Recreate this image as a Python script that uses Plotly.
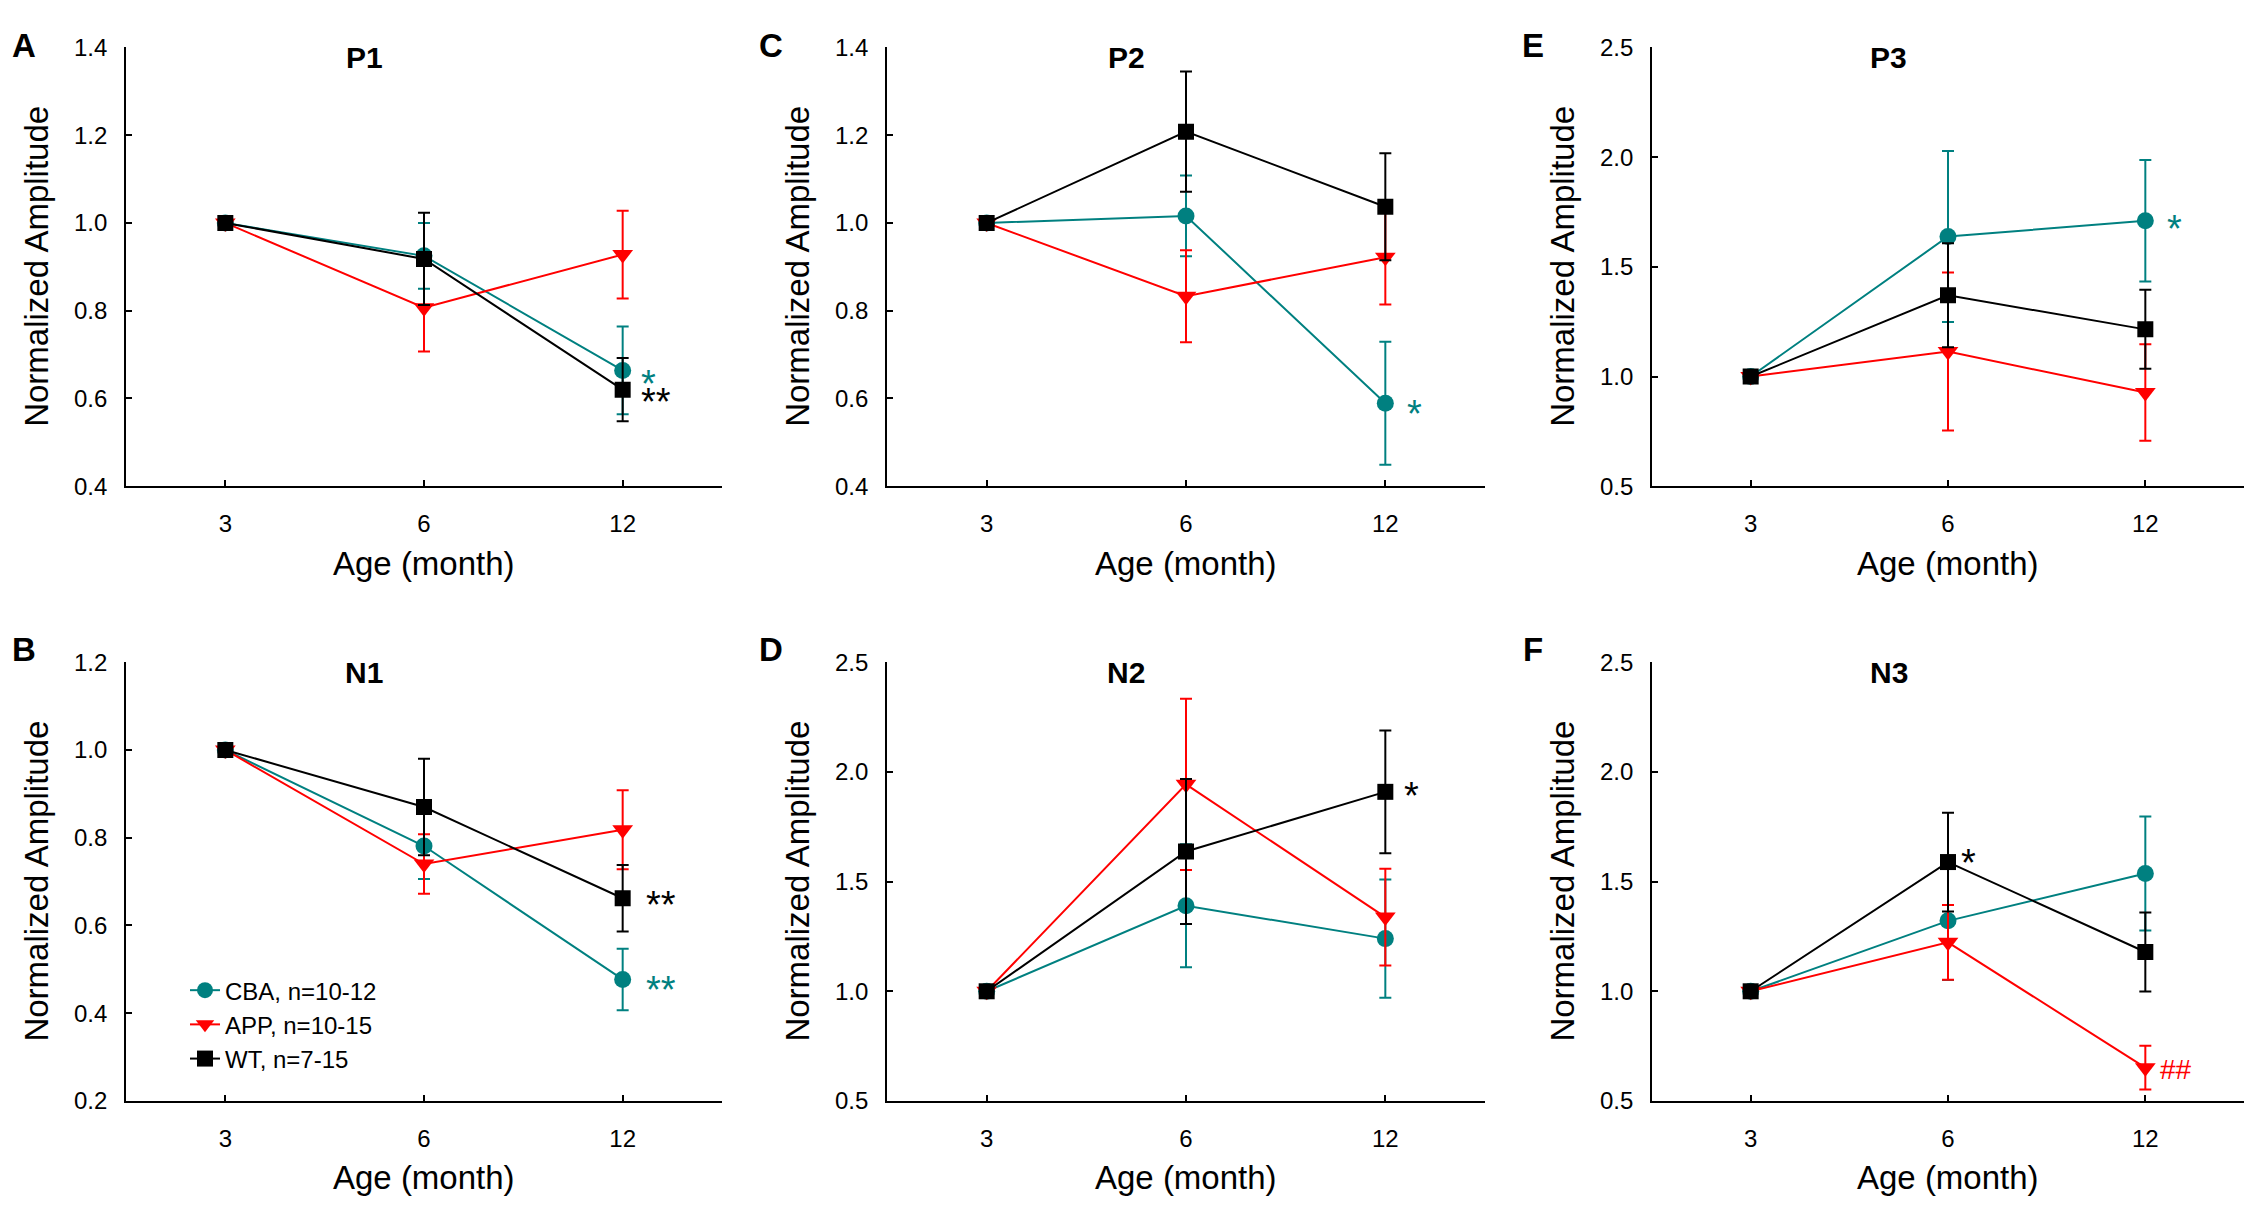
import plotly.graph_objects as go

# ages on the x axis (shown as evenly spaced categories)
AGES = ["3", "6", "12"]
XPOS = list(range(len(AGES)))

GROUPS = ["CBA, n=10-12", "APP, n=10-15", "WT, n=7-15"]
COLORS = ["#008080", "#ff0000", "#000000"]
SYMBOLS = ["circle", "triangle-down", "square"]
SIZES = [17, 18, 16]

# P1
P1_CBA = [1.0, 0.925, 0.664]
P1_CBA_SE = [0, 0.075, 0.10]
P1_APP = [1.0, 0.807, 0.928]
P1_APP_SE = [0, 0.10, 0.10]
P1_WT = [1.0, 0.918, 0.620]
P1_WT_SE = [0, 0.105, 0.072]

# N1
N1_CBA = [1.0, 0.781, 0.477]
N1_CBA_SE = [0, 0.075, 0.07]
N1_APP = [1.0, 0.740, 0.818]
N1_APP_SE = [0, 0.068, 0.09]
N1_WT = [1.0, 0.870, 0.662]
N1_WT_SE = [0, 0.11, 0.076]

# P2
P2_CBA = [1.0, 1.016, 0.589]
P2_CBA_SE = [0, 0.092, 0.14]
P2_APP = [1.0, 0.833, 0.922]
P2_APP_SE = [0, 0.105, 0.108]
P2_WT = [1.0, 1.208, 1.037]
P2_WT_SE = [0, 0.137, 0.122]

# N2
N2_CBA = [1.0, 1.390, 1.240]
N2_CBA_SE = [0, 0.28, 0.27]
N2_APP = [1.0, 1.943, 1.338]
N2_APP_SE = [0, 0.39, 0.22]
N2_WT = [1.0, 1.637, 1.909]
N2_WT_SE = [0, 0.33, 0.28]

# P3
P3_CBA = [1.0, 1.638, 1.710]
P3_CBA_SE = [0, 0.39, 0.277]
P3_APP = [1.0, 1.114, 0.927]
P3_APP_SE = [0, 0.36, 0.22]
P3_WT = [1.0, 1.370, 1.215]
P3_WT_SE = [0, 0.237, 0.18]

# N3
N3_CBA = [1.0, 1.321, 1.537]
N3_CBA_SE = [0, 0.27, 0.26]
N3_APP = [1.0, 1.223, 0.652]
N3_APP_SE = [0, 0.17, 0.10]
N3_WT = [1.0, 1.589, 1.179]
N3_WT_SE = [0, 0.225, 0.18]

# letter, title, y range, dtick, series, errors
PANELS = [
    ("A", "P1", [0.4, 1.4], 0.2, [P1_CBA, P1_APP, P1_WT], [P1_CBA_SE, P1_APP_SE, P1_WT_SE]),
    ("C", "P2", [0.4, 1.4], 0.2, [P2_CBA, P2_APP, P2_WT], [P2_CBA_SE, P2_APP_SE, P2_WT_SE]),
    ("E", "P3", [0.5, 2.5], 0.5, [P3_CBA, P3_APP, P3_WT], [P3_CBA_SE, P3_APP_SE, P3_WT_SE]),
    ("B", "N1", [0.2, 1.2], 0.2, [N1_CBA, N1_APP, N1_WT], [N1_CBA_SE, N1_APP_SE, N1_WT_SE]),
    ("D", "N2", [0.5, 2.5], 0.5, [N2_CBA, N2_APP, N2_WT], [N2_CBA_SE, N2_APP_SE, N2_WT_SE]),
    ("F", "N3", [0.5, 2.5], 0.5, [N3_CBA, N3_APP, N3_WT], [N3_CBA_SE, N3_APP_SE, N3_WT_SE]),
]

# significance marks: panel title, group index, age index, text
SIG_PANEL = ["P1", "P1", "N1", "N1", "P2", "N2", "P3", "N3", "N3"]
SIG_GROUP = [0, 2, 2, 0, 0, 2, 0, 2, 1]
SIG_AGE = [2, 2, 2, 2, 2, 2, 2, 1, 2]
SIG_TEXT = ["*", "**", "**", "**", "*", "*", "*", "*", "##"]
# pixel nudges (x right, y down) of the visual glyph centre from the point
SIG_DX = [26, 33, 38, 38, 29, 26, 29, 20, 31]
SIG_DY = [5, 4, -2, 2, 2, -4, 0, -8, 2]

# page is 2252x1208; the browser body keeps an 8px margin round the figure
PAGE_W, PAGE_H = 2252, 1208
OFF = 8
W, H = PAGE_W - 2 * OFF, PAGE_H - 2 * OFF

COL_X = [(126, 722), (887, 1485), (1652, 2248)]
ROW_Y = [(34, 483), (663, 1112)]
LETTER_X = [24, 771, 1533]
LETTER_Y = [32, 650]


def fx(px):
    return min(max((px - OFF) / W, 0), 1)


def fy(py):
    return min(max(1 - (py - OFF) / H, 0), 1)


FONT = "Liberation Sans, Arial, sans-serif"

fig = go.Figure()
annotations = []

for k, (letter, title, yr, dt, series, errs) in enumerate(PANELS):
    n = k + 1
    row, col = divmod(k, 3)
    sfx = "" if n == 1 else str(n)
    x0, x1 = COL_X[col]
    y0, y1 = ROW_Y[row]

    for g in range(3):
        fig.add_trace(go.Scatter(
            x=XPOS, y=series[g], name=GROUPS[g],
            mode="lines+markers",
            line=dict(color=COLORS[g], width=2),
            marker=dict(symbol=SYMBOLS[g], size=SIZES[g], color=COLORS[g], line=dict(width=0)),
            error_y=dict(type="data", array=errs[g], color=COLORS[g], thickness=2, width=6),
            xaxis="x" + sfx, yaxis="y" + sfx,
            showlegend=(title == "N1"), legendgroup=GROUPS[g],
        ))

    axis_common = dict(
        showline=True, linecolor="black", linewidth=1.7, showgrid=False, zeroline=False,
        ticks="inside", ticklen=6, tickwidth=1.5, tickcolor="black",
        tickfont=dict(family=FONT, size=24, color="black"),
    )
    fig.update_layout(**{
        "xaxis" + sfx: dict(
            axis_common, domain=[fx(x0), fx(x1)], anchor="y" + sfx,
            range=[-0.5, 2.5], tickvals=XPOS, ticktext=AGES, ticklabelstandoff=15,
        ),
        "yaxis" + sfx: dict(
            axis_common, domain=[fy(y1), fy(y0)], anchor="x" + sfx,
            range=yr, dtick=dt, tick0=0, tickformat=".1f", ticklabelstandoff=12,
        ),
    })

    xd = "x" + sfx + " domain"
    yd = "y" + sfx + " domain"
    annotations += [
        dict(text="<b>" + title + "</b>", xref=xd, yref=yd, x=0.40, y=1 - 10.5 / (y1 - y0),
             showarrow=False, xanchor="center", yanchor="middle",
             font=dict(family=FONT, size=30, color="black")),
        dict(text="Age (month)", xref=xd, yref=yd, x=0.5, y=0, yshift=-77,
             showarrow=False, xanchor="center", yanchor="middle",
             font=dict(family=FONT, size=33, color="black")),
        dict(text="Normalized Amplitude", xref=xd, yref=yd, x=0, y=0.5, xshift=-89,
             textangle=-90, showarrow=False, xanchor="center", yanchor="middle",
             font=dict(family=FONT, size=33, color="black")),
        dict(text="<b>" + letter + "</b>", xref="paper", yref="paper",
             x=fx(LETTER_X[col]), y=fy(LETTER_Y[row]),
             showarrow=False, xanchor="center", yanchor="middle",
             font=dict(family=FONT, size=33, color="black")),
    ]

titles = [p[1] for p in PANELS]
for pt, g, a, txt, dx, dy in zip(SIG_PANEL, SIG_GROUP, SIG_AGE, SIG_TEXT, SIG_DX, SIG_DY):
    k = titles.index(pt)
    sfx = "" if k == 0 else str(k + 1)
    size = 38 if txt.startswith("*") else 28
    lift = 0.227 * size if txt.startswith("*") else 0
    annotations.append(dict(
        text=txt, xref="x" + sfx, yref="y" + sfx, x=XPOS[a], y=PANELS[k][4][g][a],
        xshift=dx, yshift=-(dy + lift), showarrow=False,
        xanchor="center", yanchor="middle",
        font=dict(family=FONT, size=size, color=COLORS[g]),
    ))

fig.update_layout(
    width=W, height=H,
    margin=dict(l=0, r=0, t=0, b=0),
    paper_bgcolor="white", plot_bgcolor="white",
    font=dict(family=FONT, color="black"),
    annotations=annotations,
    legend=dict(
        x=fx(185), y=fy(976), xanchor="left", yanchor="top",
        bgcolor="rgba(0,0,0,0)", font=dict(family=FONT, size=24, color="black"),
        tracegroupgap=0, itemsizing="trace",
    ),
)

fig.write_html("out.html", config={"displayModeBar": False})
